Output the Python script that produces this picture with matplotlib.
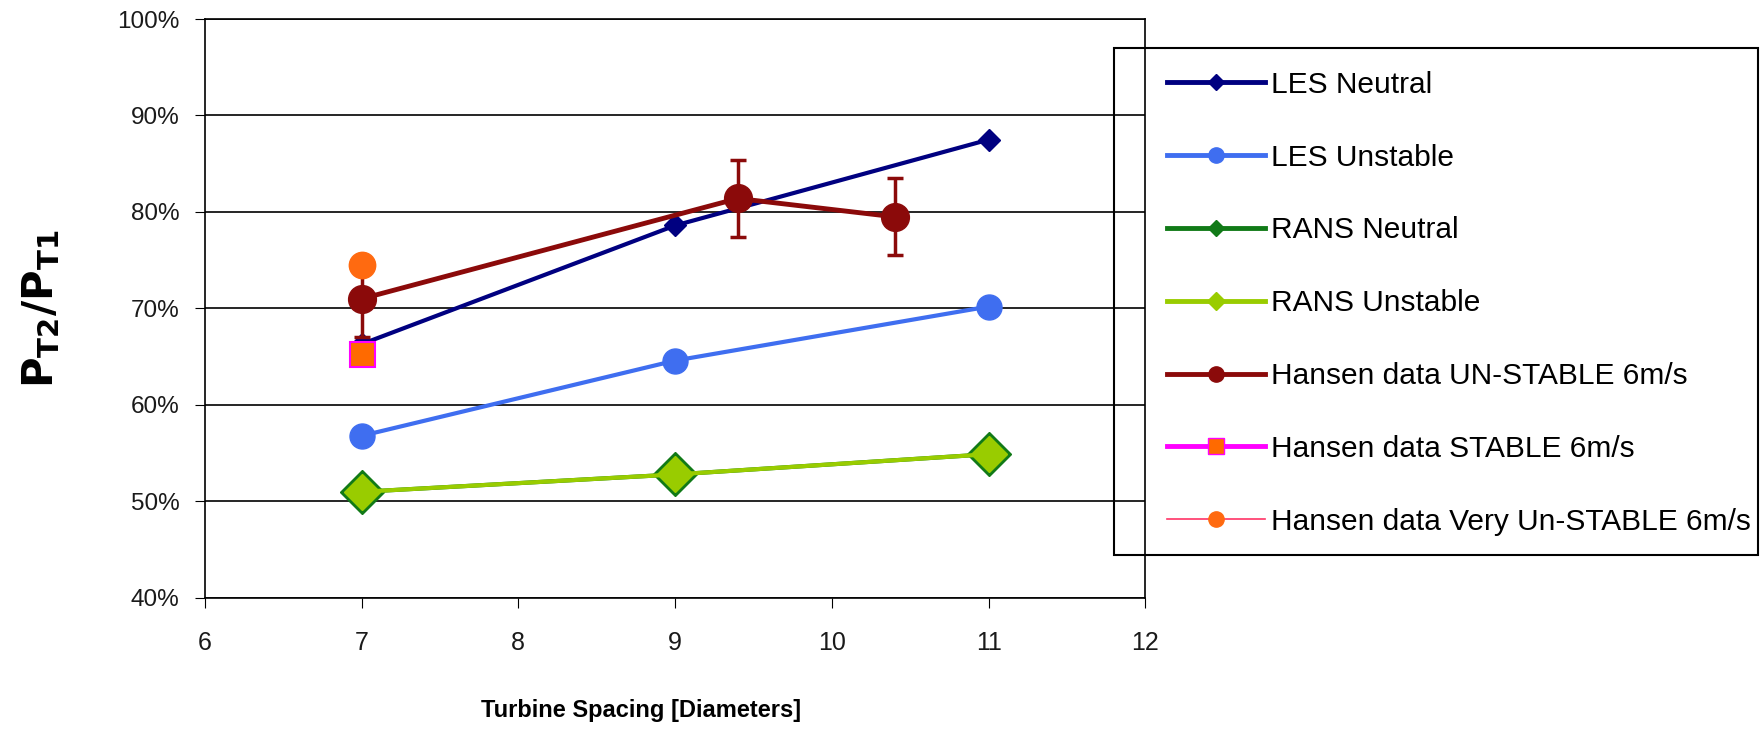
import matplotlib
matplotlib.use("Agg")
import matplotlib.pyplot as plt
from matplotlib.ticker import FuncFormatter
from matplotlib.patches import Rectangle

plt.rcParams['font.family'] = ['Liberation Sans', 'DejaVu Sans']

# ---- data ----
spacing_sim = [7, 9, 11]
les_neutral = [66.3, 78.6, 87.5]
les_unstable = [56.8, 64.6, 70.2]
rans_neutral = [51.0, 52.8, 54.9]
rans_unstable = [51.0, 52.8, 54.9]

hansen_unstable_x = [7, 9.4, 10.4]
hansen_unstable_y = [71.0, 81.4, 79.5]
hansen_unstable_err = [4.0, 4.0, 4.0]

hansen_stable_x = [7]
hansen_stable_y = [65.3]

hansen_very_unstable_x = [7]
hansen_very_unstable_y = [74.5]

labels = ["LES Neutral", "LES Unstable", "RANS Neutral", "RANS Unstable",
          "Hansen data UN-STABLE 6m/s", "Hansen data STABLE 6m/s",
          "Hansen data Very Un-STABLE 6m/s"]

fig = plt.figure(figsize=(17.65, 7.31), dpi=100)
ax = fig.add_axes([0.116, 0.182, 0.533, 0.792])

ax.plot(spacing_sim, les_neutral, color='#000080', lw=3, marker='D', ms=11, zorder=4)
ax.plot(spacing_sim, les_unstable, color='#3F6EF0', lw=3, marker='o', ms=18, zorder=4)
ax.plot(spacing_sim, rans_neutral, color='#117A17', lw=3, marker='D', ms=22, zorder=4)
ax.plot(spacing_sim, rans_unstable, color='#99CC00', lw=3, marker='D', ms=18,
        markeredgecolor='#99CC00', zorder=5)
ax.errorbar(hansen_unstable_x, hansen_unstable_y, yerr=hansen_unstable_err,
            color='#8B0A0A', lw=3.5, elinewidth=2.5, capsize=6, capthick=2.5,
            marker='o', ms=20, zorder=6)
ax.plot(hansen_stable_x, hansen_stable_y, color='#FF00FF', lw=3, marker='s', ms=18,
        markerfacecolor='#FF6A00', markeredgecolor='#FF00FF', markeredgewidth=1.5,
        zorder=7)
ax.plot(hansen_very_unstable_x, hansen_very_unstable_y, color='#FF3366', lw=1,
        marker='o', ms=19, markerfacecolor='#FF6A10', markeredgecolor='#FF6A10',
        zorder=7)

ax.set_xlim(6, 12)
ax.set_ylim(40, 100)
ax.set_xticks(range(6, 13))
ax.set_yticks(range(40, 101, 10))
ax.yaxis.set_major_formatter(FuncFormatter(lambda v, p: f"{int(v)}%"))
ax.grid(axis='y', color='black', lw=1.2)
ax.set_axisbelow(True)
for s in ax.spines.values():
    s.set_color('black')
    s.set_linewidth(1.2)
ax.tick_params(axis='both', direction='out', length=7, color='black',
               labelcolor='#1a1a1a')
ax.tick_params(axis='y', labelsize=17.5, pad=11)
ax.tick_params(axis='x', labelsize=18, pad=17)

ax.set_ylabel(r"$\mathbf{P}_{\mathbf{T2}}\mathbf{/P}_{\mathbf{T1}}$", fontsize=30)
ax.yaxis.set_label_coords(-0.152, 0.5)
ax.set_xlabel("Turbine Spacing [Diameters]", fontsize=17, fontweight='bold')
ax.xaxis.set_label_coords(0.464, -0.175)

# legend box drawn as a separate frame
fig.patches.append(Rectangle((1114 / 1765, 1 - 555 / 731), (1758 - 1114) / 1765,
                             (555 - 48) / 731, transform=fig.transFigure,
                             fill=False, edgecolor='black', lw=1.5))

lh = [
    plt.Line2D([], [], color='#000080', lw=3.5, marker='D', ms=8),
    plt.Line2D([], [], color='#3F6EF0', lw=3.5, marker='o', ms=11),
    plt.Line2D([], [], color='#117A17', lw=3.5, marker='D', ms=8),
    plt.Line2D([], [], color='#99CC00', lw=3.5, marker='D', ms=9),
    plt.Line2D([], [], color='#8B0A0A', lw=3.5, marker='o', ms=11),
    plt.Line2D([], [], color='#FF00FF', lw=3.5, marker='s', ms=11,
               markerfacecolor='#FF6A00', markeredgecolor='#FF00FF'),
    plt.Line2D([], [], color='#FF3366', lw=1.2, marker='o', ms=11,
               markerfacecolor='#FF6A10', markeredgecolor='#FF6A10'),
]
leg = fig.legend(lh, labels, loc='upper left', bbox_to_anchor=(0.661, 0.903),
                 frameon=False, fontsize=21.5, labelspacing=1.5, handlelength=3.3,
                 handletextpad=0.2, borderpad=0, borderaxespad=0)

fig.savefig("out.png", dpi=100, facecolor='white')
